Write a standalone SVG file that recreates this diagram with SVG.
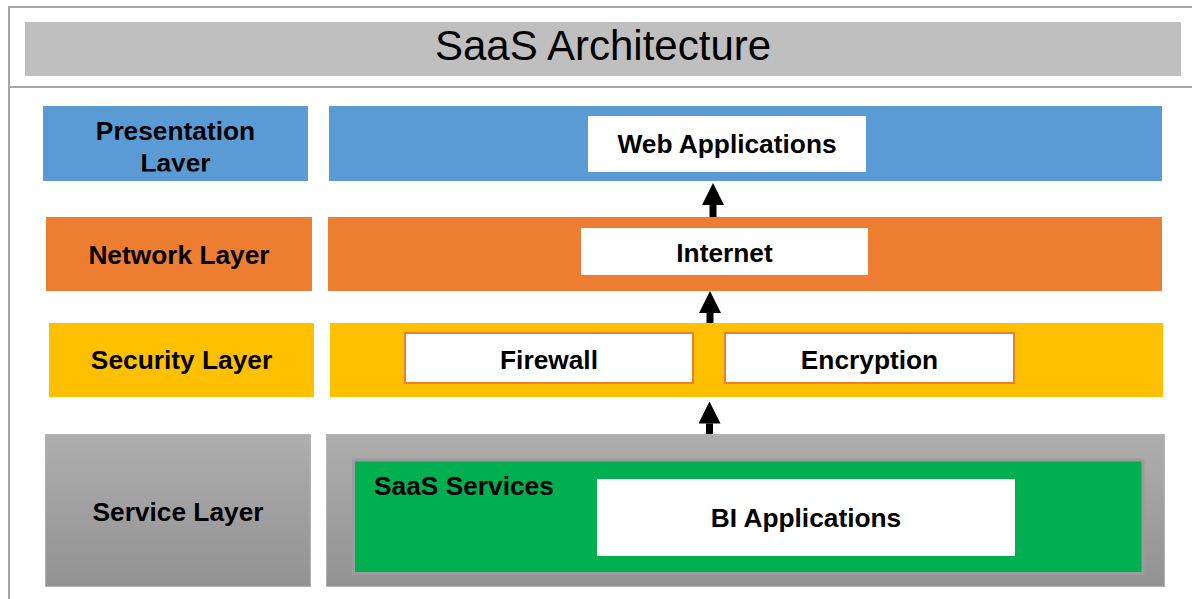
<svg xmlns="http://www.w3.org/2000/svg" width="1192" height="599" viewBox="0 0 1192 599">
<style>
.lbl{font-family:"Liberation Sans",Arial,sans-serif;font-weight:bold;font-size:26.3px;fill:#000;text-anchor:middle}
.title{font-family:"Liberation Sans",Arial,sans-serif;font-size:42px;fill:#000;text-anchor:middle}
.frame{stroke:#A6A6A6;stroke-width:2;fill:none}
.blue{fill:#5B9BD5}
.orange{fill:#ED7D31}
.yellow{fill:#FFC000}
.white{fill:#FFFFFF}
.wbox{fill:#FFFFFF;stroke:#ED7D31;stroke-width:2}
.grey{fill:url(#gg);stroke:#B4B4B4;stroke-width:1}
.conn{stroke:#000;stroke-width:7;fill:none;marker-end:url(#ah)}
</style>
<defs>
<linearGradient id="gg" x1="0" y1="0" x2="0" y2="1">
<stop offset="0" stop-color="#AEAEAE"/>
<stop offset="1" stop-color="#929292"/>
</linearGradient>
<marker id="ah" markerUnits="userSpaceOnUse" markerWidth="22" markerHeight="22" refX="0" refY="11" orient="auto" viewBox="0 0 22 22">
<path d="M0,0 L22,11 L0,22 Z" fill="#000"/>
</marker>
<clipPath id="pclip"><rect x="43" y="106" width="266" height="65.5"/></clipPath>
</defs>
<rect width="1192" height="599" fill="#FFFFFF"/>
<g id="frame">
<path class="frame" d="M1192,7 H9 V599 M9,87 H1192"/>
</g>
<g id="title">
<rect x="25" y="22" width="1156" height="54" fill="#BFBFBF"/>
<text class="title" x="603" y="60">SaaS Architecture</text>
</g>
<g id="presentation-layer">
<rect class="blue" x="43" y="106" width="265" height="75"/>
<text class="lbl" x="175.5" y="140" clip-path="url(#pclip)">Presentation</text>
<text class="lbl" x="175.5" y="171.5" clip-path="url(#pclip)">Layer</text>
</g>
<g id="presentation-band">
<rect class="blue" x="329" y="106" width="833" height="75"/>
</g>
<g id="web-applications">
<rect class="white" x="588" y="116" width="278" height="56"/>
<text class="lbl" x="727" y="153">Web Applications</text>
</g>
<g id="network-layer">
<rect class="orange" x="46" y="217" width="266" height="74"/>
<text class="lbl" x="179" y="264">Network Layer</text>
</g>
<g id="network-band">
<rect class="orange" x="328" y="217" width="834" height="74"/>
</g>
<g id="internet">
<rect class="white" x="581" y="228" width="287" height="47"/>
<text class="lbl" x="724.5" y="262">Internet</text>
</g>
<g id="security-layer">
<rect class="yellow" x="49" y="323" width="265" height="74"/>
<text class="lbl" x="181.5" y="369">Security Layer</text>
</g>
<g id="security-band">
<rect class="yellow" x="330" y="323" width="833" height="74"/>
</g>
<g id="firewall">
<rect class="wbox" x="405" y="333" width="288" height="50"/>
<text class="lbl" x="549" y="369">Firewall</text>
</g>
<g id="encryption">
<rect class="wbox" x="725" y="333" width="289" height="50"/>
<text class="lbl" x="869.5" y="369">Encryption</text>
</g>
<g id="service-layer">
<rect class="grey" x="45.5" y="434.5" width="265" height="152"/>
<text class="lbl" x="178" y="521">Service Layer</text>
</g>
<g id="service-band">
<rect class="grey" x="326.5" y="434.5" width="838" height="152"/>
</g>
<g id="saas-services">
<rect x="353.5" y="460" width="789.5" height="113.5" fill="#00B050" stroke="#9C9C9C" stroke-width="3"/>
<text class="lbl" x="374" y="495" style="text-anchor:start">SaaS Services</text>
</g>
<g id="bi-applications">
<rect class="white" x="597" y="479" width="418" height="77"/>
<text class="lbl" x="806" y="527">BI Applications</text>
</g>
<g id="connectors">
<line class="conn" x1="713" y1="217" x2="713" y2="205"/>
<line class="conn" x1="710" y1="323" x2="710" y2="313"/>
<line class="conn" x1="709.5" y1="434" x2="709.5" y2="423.5"/>
</g>
</svg>
